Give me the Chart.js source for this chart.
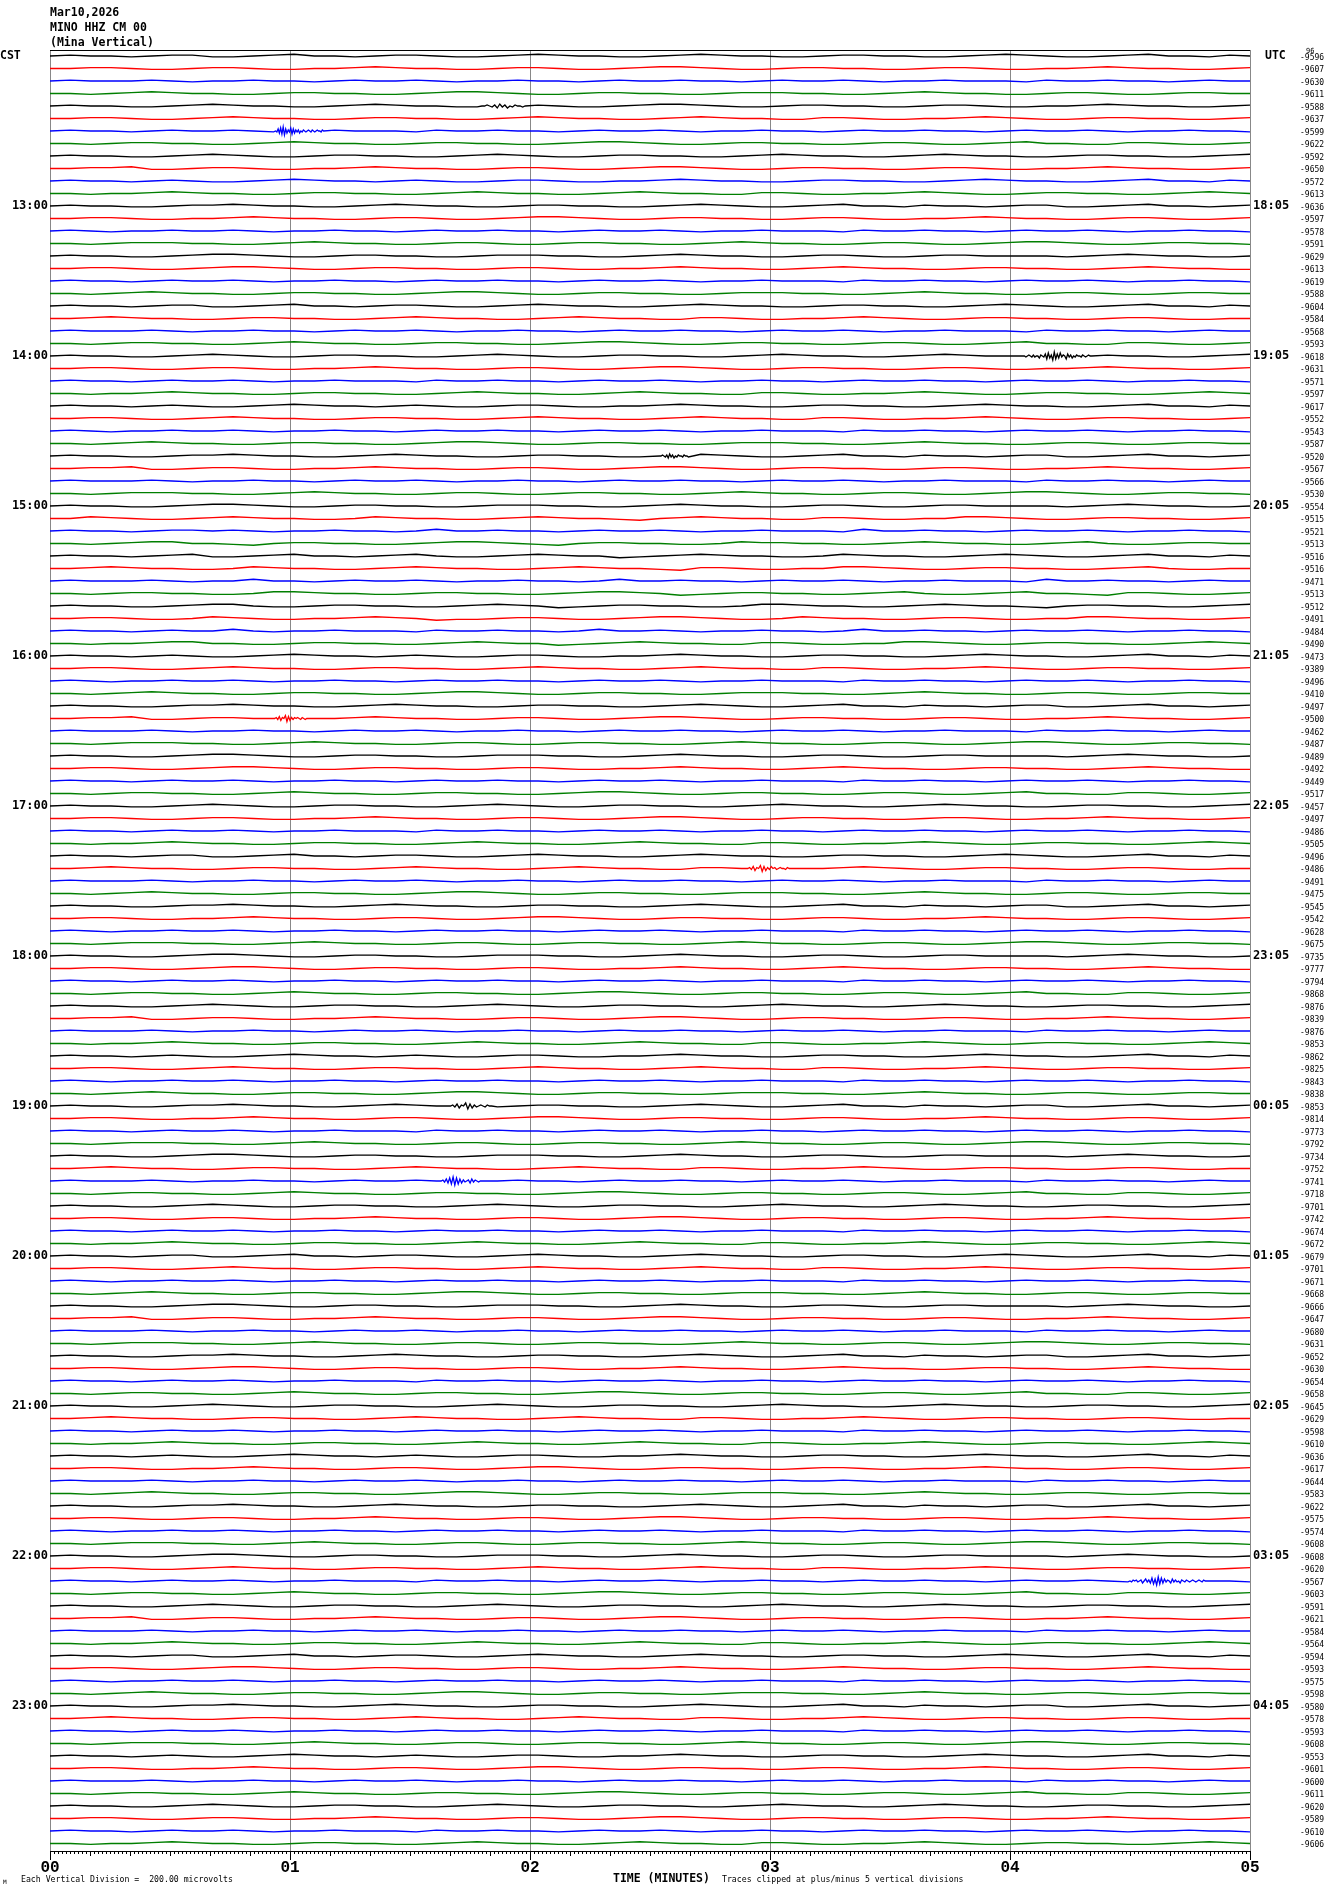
<!DOCTYPE html>
<html>
<head>
<meta charset="utf-8">
<script src="https://cdn.jsdelivr.net/npm/chart.js@4.4.1/dist/chart.umd.min.js"></script>
<style>
  html, body { margin: 0; padding: 0; background: #fff; }
  canvas { display: block; }
</style>
</head>
<body>
<canvas id="heli" width="1330" height="1894"></canvas>
<script>
// --- datos del helicorder ---
const titleLines = ['Mar10,2026', 'MINO HHZ CM 00', '(Mina Vertical)'];
const cstHours = ['13:00','14:00','15:00','16:00','17:00','18:00','19:00','20:00','21:00','22:00','23:00'];
const utcHours = ['18:05','19:05','20:05','21:05','22:05','23:05','00:05','01:05','02:05','03:05','04:05'];
const minuteLabels = ['00','01','02','03','04','05'];
const traceColors = ['#000000', '#ff0000', '#0000ff', '#007f00'];

// valor medio (cuentas) mostrado a la derecha de cada traza
const offsetLabels = [
  -9596,-9607,-9630,-9611,-9588,-9637,-9599,-9622,-9592,-9650,-9572,-9613,
  -9636,-9597,-9578,-9591,-9629,-9613,-9619,-9588,-9604,-9584,-9568,-9593,
  -9618,-9631,-9571,-9597,-9617,-9552,-9543,-9587,-9520,-9567,-9566,-9530,
  -9554,-9515,-9521,-9513,-9516,-9516,-9471,-9513,-9512,-9491,-9484,-9490,
  -9473,-9389,-9496,-9410,-9497,-9500,-9462,-9487,-9489,-9492,-9449,-9517,
  -9457,-9497,-9486,-9505,-9496,-9486,-9491,-9475,-9545,-9542,-9628,-9675,
  -9735,-9777,-9794,-9868,-9876,-9839,-9876,-9853,-9862,-9825,-9843,-9838,
  -9853,-9814,-9773,-9792,-9734,-9752,-9741,-9718,-9701,-9742,-9674,-9672,
  -9679,-9701,-9671,-9668,-9666,-9647,-9680,-9631,-9652,-9630,-9654,-9658,
  -9645,-9629,-9598,-9610,-9636,-9617,-9644,-9583,-9622,-9575,-9574,-9608,
  -9608,-9620,-9567,-9603,-9591,-9621,-9584,-9564,-9594,-9593,-9575,-9598,
  -9580,-9578,-9593,-9608,-9553,-9601,-9600,-9611,-9620,-9589,-9610,-9606
];

// muestras cada ~5 s, digito '4' = linea base, 1 paso = SAMPLE_UNIT division
const traceSamples = [
  '454434553345644345543345654433456544334554433456543345644354',
  '445543345543344565443345543345665433455443345543344565443345',
  '454445434454434544543445443454454434544543445444354454434544',
  '443456544334554433456654334554433455544334565443345543345544',
  '454433456544334565443345543345665433455443345543344565443345',
  '445543345654433455443345654433456544335543344565433455443345',
  '454434544543445444354454434544543445443454454434544543445443',
  '443455443345654433455443345665433455443345543345644335543345',
  '454433456543345544334565433455443345654433456544334554433456',
  '445563345543344565443345543345665433455443345543344565443345',
  '454434543345654434543345543344565443345544334565443345644354',
  '443445654433455443345654433456544335543344565433455443345654',

  '454433455654433456544334554433456543345644354434553345644345',
  '445543344565443345543345665433455443345543344565443345543345',
  '454344544543445443454454434544543445444354454434544543445443',
  '443455544334565443345543345544334565443345543345665433455443',
  '454433456654334554433455544334565443345543345544443456544334',
  '445543345665433455443345543344565443345654433455443345654433',
  '454434544543445443454454434544543445444354454434544543445443',
  '443456544334554433456654334554433455544334565443345543345544',
  '454434553345644345543345654433456544334554433456543345644354',
  '445654433455443345654433456544335543344565433455443345543344',
  '454445434454434544543445443454454434544543445444354454434544',
  '443455443345654433455443345665433455443345543345644335543345',

  '454433456543345544334565433455443345654433456544334554433456',
  '445543345543344565443345543345665433455443345543344565443345',
  '454434544543445444354454434544543445443454454434544543445443',
  '443445654433455443345654433456544335543344565433455443345654',
  '454434543345654434543345543344565443345544334565443345644354',
  '445543345654433455443345654433456544335543344565433455443345',
  '454344544543445443454454434544543445444354454434544543445443',
  '443456544334554433456654334554433455544334565443345543345544',
  '454433455654433456544334554433456543345644354434553345644345',
  '445563345543344565443345543345665433455443345543344565443345',
  '454445434454434544543445443454454434544543445444354454434544',
  '443455544334565443345543345544334565443345543345665433455443',

  '454433456654334554433455544334565443345543345544443456544334',
  '446543345654433465443345654432456544335543344665433455443345',
  '454434554543445443464454434544543445444364454434544543445443',
  '443456644324554433456654324554433465544334565443345643345544',
  '454434563345644345643345654423456544334654433456543345644354',
  '445654433465443345654433456544325543344665433455443345643344',
  '454445434464434544543445443464454434544543445444364454434544',
  '443455443346654433455443345665423455443345643345644325543345',
  '454433456643345544334565423455443346654433456544324554433456',
  '445543346543344565423345543345665433465443345543344665443345',
  '454434544643445444354454434644543445443464454434544543445443',
  '443445664433455443345654423456544335543344665433455443345654',

  '454434543345654434543345543344565443345544334565443345644354',
  '445543345654433455443345654433456544335543344565433455443345',
  '454344544543445443454454434544543445444354454434544543445443',
  '443456544334554433456654334554433455544334565443345543345544',
  '454433455654433456544334554433456543345644354434553345644345',
  '445563345543344565443345543345665433455443345543344565443345',
  '454445434454434544543445443454454434544543445444354454434544',
  '443455544334565443345543345544334565443345543345665433455443',
  '454433456654334554433455544334565443345543345544443456544334',
  '445543345665433455443345543344565443345654433455443345654433',
  '454434544543445443454454434544543445444354454434544543445443',
  '443455443345654433455443345665433455443345543345644335543345',

  '454433456543345544334565433455443345654433456544334554433456',
  '445543345543344565443345543345665433455443345543344565443345',
  '454434544543445444354454434544543445443454454434544543445443',
  '443445654433455443345654433456544335543344565433455443345654',
  '454434553345644345543345654433456544334554433456543345644354',
  '445654433455443345654433456544335543344565433455443345543344',
  '454445434454434544543445443454454434544543445444354454434544',
  '443456544334554433456654334554433455544334565443345543345544',
  '454433455654433456544334554433456543345644354434553345644345',
  '445543344565443345543345665433455443345543344565443345543345',
  '454344544543445443454454434544543445444354454434544543445443',
  '443455544334565443345543345544334565443345543345665433455443',

  '454433456654334554433455544334565443345543345544443456544334',
  '445543345665433455443345543344565443345654433455443345654433',
  '454434544543445443454454434544543445444354454434544543445443',
  '443455443345654433455443345665433455443345543345644335543345',
  '454433456543345544334565433455443345654433456544334554433456',
  '445563345543344565443345543345665433455443345543344565443345',
  '454445434454434544543445443454454434544543445444354454434544',
  '443445654433455443345654433456544335543344565433455443345654',
  '454434543345654434543345543344565443345544334565443345644354',
  '445543345654433455443345654433456544335543344565433455443345',
  '454344544543445443454454434544543445444354454434544543445443',
  '443456544334554433456654334554433455544334565443345543345544',

  '454433455654433456544334554433456543345644354434553345644345',
  '445543344565443345543345665433455443345543344565443345543345',
  '454434544543445444354454434544543445443454454434544543445443',
  '443455544334565443345543345544334565443345543345665433455443',
  '454433456654334554433455544334565443345543345544443456544334',
  '445654433455443345654433456544335543344565433455443345543344',
  '454445434454434544543445443454454434544543445444354454434544',
  '443455443345654433455443345665433455443345543345644335543345',
  '454433456543345544334565433455443345654433456544334554433456',
  '445543345543344565443345543345665433455443345543344565443345',
  '454434544543445443454454434544543445444354454434544543445443',
  '443445654433455443345654433456544335543344565433455443345654',

  '454434553345644345543345654433456544334554433456543345644354',
  '445543345654433455443345654433456544335543344565433455443345',
  '454344544543445443454454434544543445444354454434544543445443',
  '443456544334554433456654334554433455544334565443345543345544',
  '454433456654334554433455544334565443345543345544443456544334',
  '445563345543344565443345543345665433455443345543344565443345',
  '454445434454434544543445443454454434544543445444354454434544',
  '443455544334565443345543345544334565443345543345665433455443',
  '454433455654433456544334554433456543345644354434553345644345',
  '445543345665433455443345543344565443345654433455443345654433',
  '454434544543445444354454434544543445443454454434544543445443',
  '443455443345654433455443345665433455443345543345644335543345',

  '454433456543345544334565433455443345654433456544334554433456',
  '445654433455443345654433456544335543344565433455443345543344',
  '454434544543445443454454434544543445444354454434544543445443',
  '443445654433455443345654433456544335543344565433455443345654',
  '454434543345654434543345543344565443345544334565443345644354',
  '445543344565443345543345665433455443345543344565443345543345',
  '454445434454434544543445443454454434544543445444354454434544',
  '443456544334554433456654334554433455544334565443345543345544',
  '454433455654433456544334554433456543345644354434553345644345',
  '445543345543344565443345543345665433455443345543344565443345',
  '454344544543445443454454434544543445444354454434544543445443',
  '443455544334565443345543345544334565443345543345665433455443',

  '454433456654334554433455544334565443345543345544443456544334',
  '445543345654433455443345654433456544335543344565433455443345',
  '454434544543445444354454434544543445443454454434544543445443',
  '443455443345654433455443345665433455443345543345644335543345',
  '454433456543345544334565433455443345654433456544334554433456',
  '445563345543344565443345543345665433455443345543344565443345',
  '454445434454434544543445443454454434544543445444354454434544',
  '443445654433455443345654433456544335543344565433455443345654',
  '454434553345644345543345654433456544334554433456543345644354',
  '445543345665433455443345543344565443345654433455443345654433',
  '454344544543445443454454434544543445444354454434544543445443',
  '443456544334554433456654334554433455544334565443345543345544',

  '454433455654433456544334554433456543345644354434553345644345',
  '445654433455443345654433456544335543344565433455443345543344',
  '454434544543445443454454434544543445444354454434544543445443',
  '443455544334565443345543345544334565443345543345665433455443',
  '454434543345654434543345543344565443345544334565443345644354',
  '445543344565443345543345665433455443345543344565443345543345',
  '454445434454434544543445443454454434544543445444354454434544',
  '443455443345654433455443345665433455443345543345644335543345',
  '454433456543345544334565433455443345654433456544334554433456',
  '445543345543344565443345543345665433455443345543344565443345',
  '454434544543445444354454434544543445443454454434544543445443',
  '443445654433455443345654433456544335543344565433455443345654'
];

// sismos pequenos: traza, minuto inicio/fin, muestras densas ('5' = base, 1 paso = BURST_UNIT div)
const bursts = [
  { trace: 4,   from: 1.80, to: 1.98, samples: '556546374635465545' },
  { trace: 6,   from: 0.94, to: 1.14, samples: '547382917364827364635465456546545655465' },
  { trace: 24,  from: 4.06, to: 4.34, samples: '5456546455365472836192738465274635465546545655' },
  { trace: 32,  from: 2.54, to: 2.66, samples: '556546374635465546554' },
  { trace: 53,  from: 0.93, to: 1.07, samples: '55647365827364656546545' },
  { trace: 65,  from: 2.90, to: 3.08, samples: '5564736582736475645655465' },
  { trace: 84,  from: 1.66, to: 1.84, samples: '556473658273645654655' },
  { trace: 90,  from: 1.63, to: 1.80, samples: '5647382918273645637465455' },
  { trace: 122, from: 4.50, to: 4.82, samples: '54656456357463827192837465374645365465456545654655' }
];

const SAMPLE_UNIT = 0.07;
const BURST_UNIT = 0.08;
const MONO = '"DejaVu Sans Mono", monospace';

function buildTrace(i) {
  const s = traceSamples[i];
  const n = s.length;
  const ev = bursts.filter(b => b.trace === i);
  const pts = [];
  for (let k = 0; k < n; k++) {
    const x = k * 5 / (n - 1);
    if (ev.some(b => x > b.from && x < b.to)) continue;
    pts.push({ x: x, y: i - (s.charCodeAt(k) - 52) * SAMPLE_UNIT });
  }
  ev.forEach(b => {
    const m = b.samples.length;
    for (let k = 0; k < m; k++) {
      pts.push({ x: b.from + k * (b.to - b.from) / (m - 1), y: i - (b.samples.charCodeAt(k) - 53) * BURST_UNIT });
    }
  });
  pts.sort((a, b) => a.x - b.x);
  return pts;
}

const datasets = traceSamples.map((s, i) => ({
  data: buildTrace(i),
  borderColor: traceColors[i % 4],
  borderWidth: 1.3,
  pointRadius: 0,
  tension: 0,
  fill: false
}));

// --- marco, ejes y textos ---
const heliFrame = {
  id: 'heliFrame',
  beforeDatasetsDraw(chart) {
    const ctx = chart.ctx, a = chart.chartArea, xs = chart.scales.x;
    ctx.save();
    ctx.strokeStyle = '#888888';
    ctx.lineWidth = 1;
    for (let m = 0; m <= 5; m++) {
      const px = Math.round(xs.getPixelForValue(m)) + 0.5;
      ctx.beginPath(); ctx.moveTo(px, a.top); ctx.lineTo(px, a.bottom); ctx.stroke();
    }
    ctx.strokeStyle = '#000';
    ctx.beginPath(); ctx.moveTo(a.left, a.top + 0.5); ctx.lineTo(a.right, a.top + 0.5); ctx.stroke();
    ctx.restore();
  },
  afterDraw(chart) {
    const ctx = chart.ctx, a = chart.chartArea, xs = chart.scales.x, ys = chart.scales.y;
    ctx.save();
    // eje inferior con marcas cada segundo
    ctx.strokeStyle = '#000';
    ctx.lineWidth = 1;
    ctx.beginPath(); ctx.moveTo(a.left, a.bottom + 0.5); ctx.lineTo(a.right + 1, a.bottom + 0.5); ctx.stroke();
    for (let sec = 0; sec <= 300; sec++) {
      const px = Math.round(xs.getPixelForValue(sec / 60)) + 0.5;
      const len = sec % 60 === 0 ? 9 : (sec % 10 === 0 ? 5 : 3);
      ctx.beginPath(); ctx.moveTo(px, a.bottom); ctx.lineTo(px, a.bottom + len); ctx.stroke();
    }
    ctx.fillStyle = '#000';
    ctx.textBaseline = 'middle';
    ctx.textAlign = 'center';
    ctx.font = 'bold 16px "Liberation Mono", monospace';
    minuteLabels.forEach((lab, m) => ctx.fillText(lab, xs.getPixelForValue(m), 1868));

    // titulo
    ctx.textAlign = 'left';
    ctx.textBaseline = 'alphabetic';
    ctx.font = 'bold 11.5px ' + MONO;
    titleLines.forEach((t, k) => ctx.fillText(t, 50, 16 + k * 15));
    ctx.textBaseline = 'middle';
    ctx.fillText('CST', 0, 56);
    ctx.fillText('UTC', 1265, 56);

    // horas
    ctx.font = 'bold 12px ' + MONO;
    cstHours.forEach((h, k) => {
      const py = ys.getPixelForValue((k + 1) * 12);
      ctx.textAlign = 'right';
      ctx.fillText(h, 48, py);
      ctx.textAlign = 'left';
      ctx.fillText(utcHours[k], 1253, py);
    });

    // valores por traza
    ctx.font = '8px ' + MONO;
    ctx.textAlign = 'left';
    offsetLabels.forEach((v, i) => ctx.fillText(String(v), 1300, ys.getPixelForValue(i) + 1.5));
    ctx.font = '7px ' + MONO;
    ctx.fillText('96', 1306, 51);

    // pie
    ctx.font = '8.2px ' + MONO;
    ctx.fillText('Each Vertical Division =  200.00 microvolts', 21, 1880);
    ctx.fillText('Traces clipped at plus/minus 5 vertical divisions', 722, 1880);
    ctx.font = '6px ' + MONO;
    ctx.fillText('M', 3, 1882);
    ctx.font = 'bold 11.5px ' + MONO;
    ctx.fillText('TIME (MINUTES)', 613, 1879);
    ctx.restore();
  }
};

new Chart(document.getElementById('heli').getContext('2d'), {
  type: 'line',
  data: { datasets: datasets },
  options: {
    responsive: false,
    animation: false,
    events: [],
    layout: { padding: { left: 50, right: 80, top: 50, bottom: 43 } },
    scales: {
      x: { type: 'linear', min: 0, max: 5, display: false },
      y: { type: 'linear', min: -0.48, max: 143.6, reverse: true, display: false }
    },
    plugins: { legend: { display: false }, tooltip: { enabled: false } }
  },
  plugins: [heliFrame]
});
</script>
</body>
</html>
